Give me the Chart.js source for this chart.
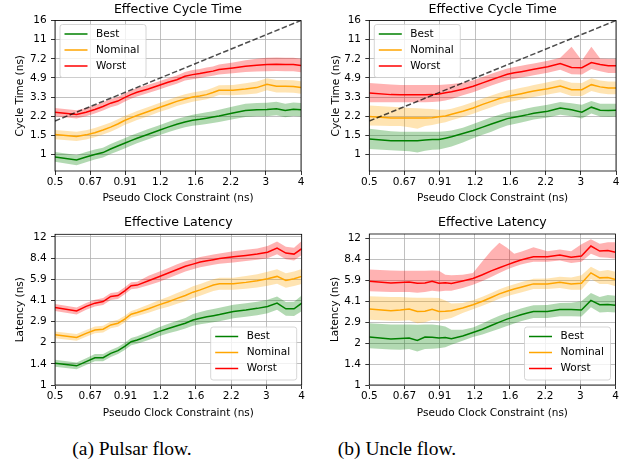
<!DOCTYPE html>
<html><head><meta charset="utf-8">
<script src="https://cdn.jsdelivr.net/npm/chart.js@4.4.1/dist/chart.umd.min.js"></script>
<style>
html,body{margin:0;padding:0;background:#fff;}
#wrap{position:relative;width:623px;height:466px;overflow:hidden;background:#fff;}
canvas{position:absolute;}
.cap{position:absolute;top:436px;width:240px;text-align:center;font-family:"Liberation Serif","Times New Roman",serif;font-size:19.5px;line-height:26px;color:#000;white-space:nowrap;}
</style></head><body>
<div id="wrap">
<canvas id="c1" width="311" height="210" style="left:0;top:0"></canvas>
<canvas id="c2" width="312" height="210" style="left:311px;top:0"></canvas>
<canvas id="c3" width="311" height="210" style="left:0;top:210px"></canvas>
<canvas id="c4" width="312" height="210" style="left:311px;top:210px"></canvas>
<div class="cap" style="left:12px">(a) Pulsar flow.</div>
<div class="cap" style="left:277px">(b) Uncle flow.</div>
</div>
<script>
// ---------- data ----------
const clock = [0.5,0.6,0.65,0.7,0.75,0.8,0.85,0.9,0.95,1.0, 1.1,1.2,1.3,1.4,1.5,1.6,1.7,1.8,1.9,2.0, 2.25,2.5,2.75,3.0,3.25,3.5,3.75,4.0];
const clockTickLabels = ['0.5','0.67','0.91','1.2','1.6','2.2','3','4'];
const cycleTickLabels = ['1','1.5','2.2','3.3','4.9','7.2','11','16'];
const latencyTickLabels = ['1','1.4','2','2.9','4.1','5.9','8.4','12'];
const idealX = [0.5, 4];
const idealY = [2, 16];

// Pulsar - effective cycle time
const pulsarCycleBest   = [0.95,0.89,0.95,1.0,1.04,1.12,1.19,1.26,1.33,1.40, 1.52,1.64,1.76,1.87,1.96,2.03,2.07,2.12,2.17,2.22, 2.36,2.48,2.52,2.53,2.58,2.48,2.55,2.52];
const pulsarCycleBestLo = [0.86,0.80,0.85,0.90,0.94,1.01,1.07,1.13,1.20,1.26, 1.37,1.48,1.58,1.68,1.76,1.81,1.84,1.88,1.92,1.96, 2.07,2.17,2.20,2.20,2.25,2.16,2.22,2.19];
const pulsarCycleBestHi = [1.05,0.99,1.05,1.11,1.15,1.24,1.32,1.40,1.48,1.55, 1.69,1.82,1.96,2.08,2.18,2.27,2.33,2.39,2.45,2.52, 2.70,2.85,2.90,2.91,2.97,2.85,2.93,2.90];
const pulsarCycleNom    = [1.51,1.45,1.50,1.57,1.66,1.76,1.88,2.02,2.13,2.24, 2.43,2.63,2.81,3.0,3.15,3.28,3.35,3.45,3.6,3.77, 3.77,3.87,3.99,4.27,4.10,4.10,4.08,4.0];
const pulsarCycleNomLo  = [1.37,1.32,1.36,1.43,1.51,1.60,1.71,1.84,1.94,2.04, 2.21,2.39,2.55,2.73,2.86,2.98,3.05,3.14,3.27,3.43, 3.40,3.45,3.53,3.78,3.60,3.60,3.58,3.51];
const pulsarCycleNomHi  = [1.66,1.60,1.65,1.73,1.83,1.94,2.07,2.22,2.34,2.46, 2.67,2.89,3.09,3.30,3.47,3.61,3.69,3.80,3.98,4.18, 4.22,4.36,4.52,4.85,4.67,4.67,4.65,4.56];
const pulsarCycleWorst  = [2.40,2.29,2.40,2.54,2.70,2.89,3.02,3.24,3.45,3.62, 3.88,4.16,4.45,4.70,5.05,5.22,5.34,5.49,5.61,5.80, 6.0,6.22,6.35,6.44,6.48,6.44,6.44,6.31];
const pulsarCycleWorstLo= [2.20,2.10,2.20,2.33,2.48,2.65,2.77,2.97,3.17,3.32, 3.56,3.82,4.08,4.31,4.63,4.75,4.86,4.99,5.10,5.22, 5.36,5.50,5.57,5.60,5.63,5.60,5.60,5.49];
const pulsarCycleWorstHi= [2.62,2.50,2.62,2.77,2.94,3.15,3.29,3.53,3.76,3.95, 4.23,4.53,4.85,5.12,5.50,5.74,5.87,6.04,6.17,6.44, 6.72,7.03,7.24,7.41,7.45,7.41,7.41,7.26];

// Uncle - effective cycle time
const uncleCycleBest    = [1.38,1.33,1.33,1.33,1.33,1.35,1.36,1.36,1.40,1.44, 1.54,1.64,1.76,1.88,1.99,2.10,2.16,2.22,2.28,2.35, 2.45,2.61,2.52,2.40,2.66,2.50,2.49,2.50];
const uncleCycleBestLo  = [1.12,1.09,1.08,1.07,1.04,1.08,1.10,1.11,1.14,1.18, 1.28,1.40,1.50,1.60,1.72,1.82,1.88,1.94,2.0,2.06, 2.15,2.28,2.20,2.10,2.33,2.19,2.18,2.19];
const uncleCycleBestHi  = [1.70,1.62,1.60,1.60,1.60,1.60,1.60,1.60,1.62,1.64, 1.74,1.88,2.02,2.16,2.28,2.38,2.45,2.52,2.60,2.67, 2.80,2.96,2.88,2.80,3.02,2.86,2.85,2.86];
const uncleCycleNom     = [2.19,2.13,2.13,2.13,2.13,2.13,2.14,2.18,2.22,2.30, 2.45,2.62,2.82,3.0,3.18,3.32,3.42,3.52,3.62,3.72, 3.90,4.13,3.82,3.82,4.24,4.05,3.96,3.96];
const uncleCycleNomLo   = [1.82,1.80,1.80,1.76,1.70,1.80,1.84,1.90,1.95,2.03, 2.17,2.32,2.50,2.66,2.82,2.94,3.03,3.12,3.20,3.29, 3.45,3.62,3.35,3.35,3.72,3.55,3.47,3.47];
const uncleCycleNomHi   = [2.76,2.68,2.66,2.62,2.60,2.58,2.56,2.52,2.52,2.58, 2.76,2.96,3.18,3.39,3.59,3.75,3.86,3.98,4.09,4.20, 4.45,4.72,4.40,4.38,4.85,4.62,4.52,4.52];
const uncleCycleWorst   = [3.57,3.45,3.44,3.44,3.44,3.44,3.45,3.50,3.58,3.66, 3.85,4.10,4.40,4.70,4.98,5.25,5.42,5.55,5.68,5.82, 6.15,6.57,6.05,6.02,6.71,6.45,6.26,6.26];
const uncleCycleWorstLo = [2.95,2.95,2.95,2.95,2.95,2.95,2.96,3.0,3.06,3.15, 3.40,3.63,3.90,4.16,4.40,4.65,4.80,4.92,5.03,5.15, 5.42,5.78,5.25,5.22,5.85,5.60,5.40,5.40];
const uncleCycleWorstHi = [4.39,4.25,4.22,4.22,4.22,4.22,4.22,4.22,4.25,4.30, 4.40,4.65,4.98,5.31,5.63,5.93,6.12,6.27,6.42,6.58, 6.95,7.40,9.3,7.0,9.3,7.30,7.25,7.25];

// Pulsar - effective latency
const pulsarLatBest     = [1.44,1.38,1.48,1.58,1.58,1.70,1.78,1.91,2.07,2.13, 2.28,2.45,2.58,2.70,2.82,2.98,3.07,3.14,3.20,3.26, 3.43,3.52,3.62,3.74,3.95,3.59,3.59,3.95];
const pulsarLatBestLo   = [1.36,1.30,1.40,1.49,1.49,1.60,1.68,1.80,1.95,2.0, 2.13,2.27,2.38,2.48,2.58,2.70,2.77,2.82,2.87,2.92, 3.06,3.14,3.23,3.34,3.53,3.20,3.18,3.45];
const pulsarLatBestHi   = [1.53,1.46,1.57,1.68,1.68,1.80,1.89,2.03,2.20,2.27, 2.44,2.64,2.80,2.94,3.08,3.29,3.40,3.50,3.58,3.65, 3.84,3.94,4.05,4.19,4.42,4.02,4.05,4.50];
const pulsarLatNom      = [2.32,2.22,2.38,2.52,2.55,2.74,2.82,3.02,3.28,3.38, 3.60,3.84,4.05,4.28,4.49,4.75,4.94,5.15,5.35,5.47, 5.47,5.60,5.75,5.95,6.19,5.79,5.95,6.19];
const pulsarLatNomLo    = [2.19,2.10,2.25,2.38,2.41,2.59,2.66,2.85,3.10,3.19, 3.36,3.56,3.72,3.91,4.08,4.30,4.47,4.66,4.84,4.95, 4.95,5.04,5.14,5.30,5.48,5.12,5.26,5.45];
const pulsarLatNomHi    = [2.46,2.35,2.52,2.67,2.70,2.90,2.99,3.20,3.47,3.58, 3.86,4.14,4.40,4.68,4.95,5.25,5.46,5.69,5.91,6.04, 6.04,6.22,6.42,6.68,6.98,6.52,6.72,7.0];
const pulsarLatWorst    = [3.67,3.47,3.74,3.95,4.06,4.42,4.49,4.86,5.29,5.35, 5.75,6.15,6.55,6.95,7.33,7.61,7.87,8.05,8.2,8.35, 8.6,8.8,9.0,9.3,9.97,9.16,9.0,9.86];
const pulsarLatWorstLo  = [3.46,3.27,3.53,3.73,3.83,4.17,4.24,4.59,4.99,5.05, 5.33,5.64,6.0,6.37,6.72,6.98,7.22,7.38,7.52,7.66, 7.82,8.0,8.18,8.38,8.98,8.25,8.1,8.88];
const pulsarLatWorstHi  = [3.89,3.68,3.96,4.19,4.30,4.69,4.76,5.15,5.61,5.67, 6.27,6.70,7.14,7.58,7.99,8.30,8.58,8.77,8.94,9.10, 9.46,9.68,9.9,10.3,11.1,10.2,10.0,11.2];

// Uncle - effective latency
const uncleLatBest      = [2.26,2.18,2.20,2.22,2.13,2.26,2.25,2.22,2.24,2.19, 2.30,2.44,2.58,2.75,2.91,3.06,3.18,3.30,3.40,3.49, 3.49,3.60,3.60,3.58,4.21,3.91,3.93,3.87];
const uncleLatBestLo    = [1.87,1.83,1.82,1.84,1.77,1.84,1.85,1.87,1.90,1.98, 2.12,2.26,2.36,2.48,2.60,2.73,2.84,2.95,3.04,3.12, 3.12,3.22,3.22,3.20,3.74,3.42,3.45,3.42];
const uncleLatBestHi    = [2.86,2.80,2.80,2.80,2.78,2.80,2.80,2.76,2.70,2.56, 2.56,2.66,2.84,3.05,3.24,3.40,3.53,3.66,3.78,3.88, 3.90,4.02,4.05,4.15,4.78,4.45,4.62,4.55];
const uncleLatNom       = [3.64,3.53,3.58,3.64,3.49,3.50,3.62,3.49,3.50,3.53, 3.70,3.91,4.15,4.42,4.70,4.92,5.10,5.26,5.42,5.57, 5.57,5.73,5.57,5.63,6.72,6.17,6.20,6.0];
const uncleLatNomLo     = [3.03,2.98,2.98,3.0,2.86,2.90,3.02,2.98,3.05,3.12, 3.40,3.62,3.84,4.08,4.33,4.52,4.68,4.82,4.96,5.10, 5.10,5.20,5.05,5.05,6.05,5.55,5.55,5.35];
const uncleLatNomHi     = [4.51,4.45,4.45,4.42,4.40,4.40,4.40,4.38,4.20,4.0, 4.02,4.22,4.48,4.78,5.08,5.33,5.54,5.72,5.90,6.07, 6.10,6.30,6.20,6.45,7.45,6.90,7.05,6.85];
const uncleLatWorst     = [5.83,5.66,5.70,5.75,5.63,5.65,5.83,5.63,5.68,5.60, 5.85,6.10,6.50,6.95,7.32,7.70,8.05,8.35,8.60,8.82, 8.82,9.08,8.76,8.95,10.6,9.73,9.84,9.55];
const uncleLatWorstLo   = [4.91,4.85,4.85,4.85,4.80,4.85,4.95,4.90,4.95,4.95, 5.20,5.50,5.85,6.25,6.70,7.1,7.45,7.75,7.95,8.1, 8.1,8.3,7.95,8.1,9.3,8.75,8.7,8.55];
const uncleLatWorstHi   = [7.11,7.0,6.95,6.95,6.95,6.95,7.0,6.95,6.50,6.45, 6.50,6.70,8.2,9.8,11.2,10.3,9.3,9.6,10.0,10.4, 9.7,10.0,9.7,10.9,11.9,11.0,11.3,11.3];

// ---------- styling / helpers ----------
Chart.defaults.font.family = '"DejaVu Sans", sans-serif';
Chart.defaults.font.size = 10.5;
Chart.defaults.color = '#000';

const SERIES_STYLE = {
  Best:    {line: '#008000', band: 'rgba(0,128,0,0.3)'},
  Nominal: {line: '#ffa500', band: 'rgba(255,165,0,0.3)'},
  Worst:   {line: '#ff0000', band: 'rgba(255,0,0,0.3)'}
};

function geomTicks(labels) {
  const a = parseFloat(labels[0]), b = parseFloat(labels[labels.length - 1]);
  return labels.map((_, k) => a * Math.pow(b / a, k / (labels.length - 1)));
}
function pts(xs, ys) { return xs.map((x, i) => ({x: x, y: ys[i]})); }

function seriesSets(name, mean, lo, hi) {
  const st = SERIES_STYLE[name];
  return [
    {label: name, inLegend: true, data: pts(clock, mean), borderColor: st.line, borderWidth: 1.5,
     pointRadius: 0, fill: false, order: 0, tension: 0},
    {label: name + ' upper', data: pts(clock, hi), borderColor: 'transparent', borderWidth: 0,
     backgroundColor: st.band, pointRadius: 0, fill: '+1', order: 5, tension: 0},
    {label: name + ' lower', data: pts(clock, lo), borderColor: 'transparent', borderWidth: 0,
     pointRadius: 0, fill: false, order: 5, tension: 0}
  ];
}

const framePlugin = {
  id: 'frame',
  afterDatasetsDraw(chart) {
    const {ctx, chartArea: a} = chart;
    ctx.save();
    ctx.strokeStyle = '#000';
    ctx.lineWidth = 0.8;
    ctx.strokeRect(a.left, a.top, a.right - a.left, a.bottom - a.top);
    ctx.restore();
  }
};

const boxLegendPlugin = {
  id: 'boxLegend',
  afterDraw(chart, args, opts) {
    const {ctx, chartArea: a} = chart;
    const items = chart.data.datasets.filter(d => d.inLegend);
    const w = 86, h = 53;
    const x = opts.corner === 'ul' ? a.left + 5 : a.right - 5 - w;
    const y = opts.corner === 'ul' ? a.top + 4 : a.bottom - 5 - h;
    ctx.save();
    ctx.beginPath();
    if (ctx.roundRect) ctx.roundRect(x, y, w, h, 2.5); else ctx.rect(x, y, w, h);
    ctx.fillStyle = 'rgba(255,255,255,0.8)';
    ctx.fill();
    ctx.strokeStyle = '#cccccc';
    ctx.lineWidth = 0.8;
    ctx.stroke();
    ctx.font = '10.5px "DejaVu Sans", sans-serif';
    ctx.textBaseline = 'middle';
    ctx.textAlign = 'left';
    items.forEach((d, i) => {
      const ry = y + 9.5 + 16 * i;
      ctx.strokeStyle = d.borderColor;
      ctx.lineWidth = 1.5;
      ctx.beginPath();
      ctx.moveTo(x + 4.5, ry);
      ctx.lineTo(x + 27.5, ry);
      ctx.stroke();
      ctx.fillStyle = '#000';
      ctx.fillText(d.label, x + 36, ry);
    });
    ctx.restore();
  }
};

const xTickVals = geomTicks(clockTickLabels);

function makeChart(id, cfg) {
  const datasets = [];
  if (cfg.ideal) {
    datasets.push({label: 'ideal', data: pts(idealX, idealY), borderColor: 'rgba(0,0,0,0.7)',
      borderDash: [5.5, 2.4], borderWidth: 1.5, pointRadius: 0, fill: false, order: -1});
  }
  cfg.series.forEach(s => datasets.push(...seriesSets(s[0], s[1], s[2], s[3])));
  const yTickVals = geomTicks(cfg.yLabels);
  const gridOpts = {color: '#b0b0b0', lineWidth: 0.8, drawTicks: true, tickLength: 4,
                    tickColor: '#000', tickWidth: 0.8};
  return new Chart(document.getElementById(id), {
    type: 'line',
    data: {datasets},
    plugins: [framePlugin, boxLegendPlugin],
    options: {
      responsive: false, animation: false, events: [],
      layout: {padding: {left: 0, top: cfg.padTop, right: cfg.padRight, bottom: 0}},
      plugins: {
        legend: {display: false},
        tooltip: {enabled: false},
        title: {display: true, text: cfg.title, fullSize: false, color: '#000',
                font: {size: 12.6, weight: 'normal', lineHeight: 1.2},
                padding: {top: 1.74, bottom: 3.64}},
        boxLegend: {corner: cfg.legendCorner}
      },
      scales: {
        x: {
          type: 'logarithmic', min: 0.5, max: 4, bounds: 'data',
          afterBuildTicks: s => { s.ticks = xTickVals.map(v => ({value: v})); },
          afterFit: s => { s.height = cfg.xAxisH; s.paddingLeft = 0; s.paddingRight = 0; },
          ticks: {autoSkip: false, maxRotation: 0, minRotation: 0, padding: 1.4,
                  font: {size: 10.5, lineHeight: 1.2},
                  callback: (v, i) => clockTickLabels[i]},
          grid: gridOpts,
          border: {display: false},
          title: {display: true, text: 'Pseudo Clock Constraint (ns)', color: '#000',
                  font: {size: 10.5, lineHeight: 1.2}, padding: {top: 0, bottom: cfg.xTitlePad}}
        },
        y: {
          type: 'logarithmic', min: cfg.yMin, max: cfg.yMax, bounds: 'data',
          afterBuildTicks: s => { s.ticks = yTickVals.map(v => ({value: v})); },
          afterFit: s => { s.width = cfg.yAxisW; s.paddingTop = 0; s.paddingBottom = 0; },
          ticks: {autoSkip: false, padding: 4.3, font: {size: 10.5, lineHeight: 1.2},
                  callback: (v, i) => cfg.yLabels[i]},
          grid: gridOpts,
          border: {display: false},
          title: {display: true, text: cfg.yTitle, color: '#000',
                  font: {size: 10.5, lineHeight: 1.2}, padding: {top: cfg.yTitlePad, bottom: 0}}
        }
      }
    }
  });
}

makeChart('c1', {
  title: 'Effective Cycle Time', yTitle: 'Cycle Time (ns)', yLabels: cycleTickLabels,
  yMin: 0.71, yMax: 16, ideal: true, legendCorner: 'ul',
  padTop: 0, padRight: 10, yAxisW: 55, xAxisH: 39, yTitlePad: 14.4, xTitlePad: 5.4,
  series: [['Best', pulsarCycleBest, pulsarCycleBestLo, pulsarCycleBestHi],
           ['Nominal', pulsarCycleNom, pulsarCycleNomLo, pulsarCycleNomHi],
           ['Worst', pulsarCycleWorst, pulsarCycleWorstLo, pulsarCycleWorstHi]]
});
makeChart('c2', {
  title: 'Effective Cycle Time', yTitle: 'Cycle Time (ns)', yLabels: cycleTickLabels,
  yMin: 0.71, yMax: 16, ideal: true, legendCorner: 'ul',
  padTop: 0, padRight: 7, yAxisW: 58.3, xAxisH: 39, yTitlePad: 18.5, xTitlePad: 5.4,
  series: [['Best', uncleCycleBest, uncleCycleBestLo, uncleCycleBestHi],
           ['Nominal', uncleCycleNom, uncleCycleNomLo, uncleCycleNomHi],
           ['Worst', uncleCycleWorst, uncleCycleWorstLo, uncleCycleWorstHi]]
});
makeChart('c3', {
  title: 'Effective Latency', yTitle: 'Latency (ns)', yLabels: latencyTickLabels,
  yMin: 1, yMax: 12.55, ideal: false, legendCorner: 'lr',
  padTop: 3.8, padRight: 9.3, yAxisW: 55, xAxisH: 35, yTitlePad: 14.4, xTitlePad: 0.4,
  series: [['Best', pulsarLatBest, pulsarLatBestLo, pulsarLatBestHi],
           ['Nominal', pulsarLatNom, pulsarLatNomLo, pulsarLatNomHi],
           ['Worst', pulsarLatWorst, pulsarLatWorstLo, pulsarLatWorstHi]]
});
makeChart('c4', {
  title: 'Effective Latency', yTitle: 'Latency (ns)', yLabels: latencyTickLabels,
  yMin: 1, yMax: 13.0, ideal: false, legendCorner: 'lr',
  padTop: 3.5, padRight: 7.5, yAxisW: 58.3, xAxisH: 35, yTitlePad: 18, xTitlePad: 0.4,
  series: [['Best', uncleLatBest, uncleLatBestLo, uncleLatBestHi],
           ['Nominal', uncleLatNom, uncleLatNomLo, uncleLatNomHi],
           ['Worst', uncleLatWorst, uncleLatWorstLo, uncleLatWorstHi]]
});
</script>
</body></html>
